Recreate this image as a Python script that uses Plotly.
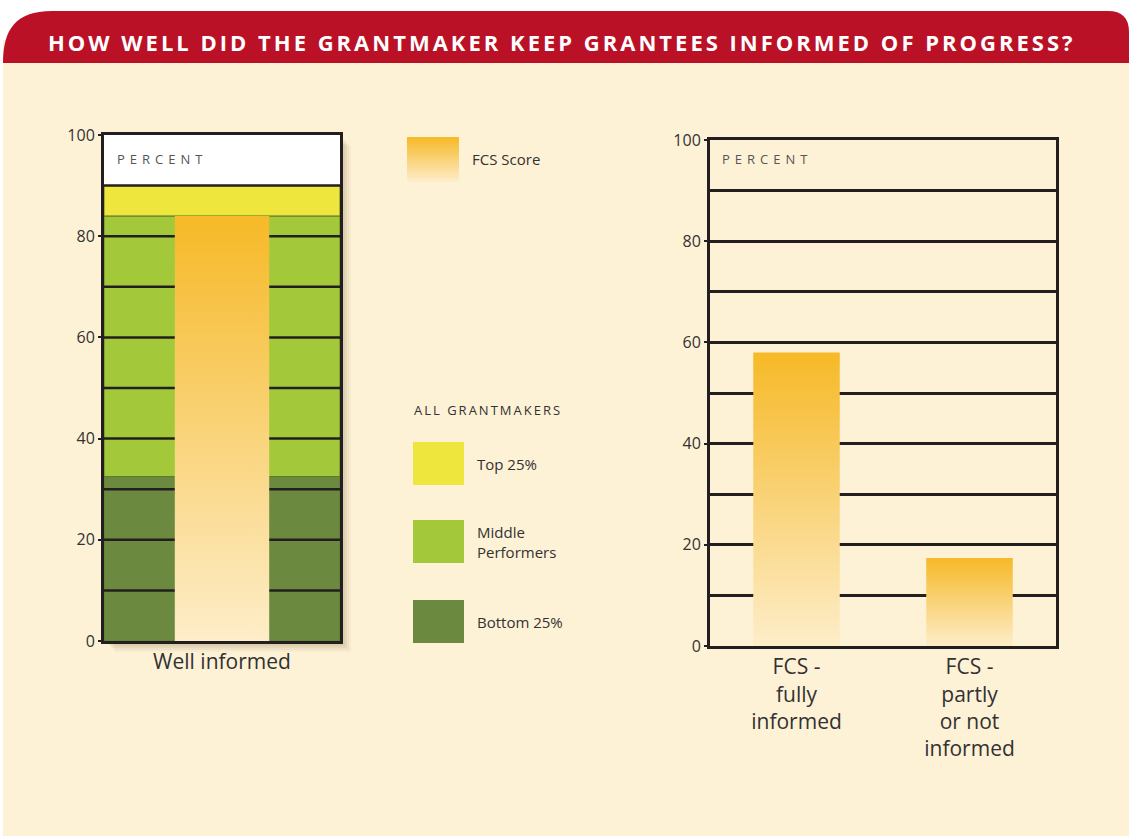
import plotly.graph_objects as go

W, H = 1129, 836

# ---- data ----
band_names = ["Bottom 25%", "Middle<br>Performers", "Top 25%"]
band_lower = [0, 32.5, 84]
band_upper = [32.5, 84, 90]
band_colors = ["#6B8A3F", "#A3C93A", "#EEE63C"]

left_categories = ["Well informed"]
left_fcs = [84]

right_categories = ["FCS -<br>fully<br>informed", "FCS -<br>partly<br>or not<br>informed"]
right_fcs = [58, 17.4]

y_ticks = [0, 20, 40, 60, 80, 100]
grid_levels = [10, 20, 30, 40, 50, 60, 70, 80, 90]

# ---- style ----
CREAM = "#FEF2D6"
RED = "#BA1126"
INK = "#231F20"
TEXT = "#333132"
ORANGE = "#F6B927"
PALE = "#FDEDC9"
FONT = "Open Sans"
GRAD = [[0, PALE], [1, ORANGE]]


def px(x):
    return x / W


def py(y):
    return 1 - y / H


def ppath(points):
    # points: list of (cmd, [(x, y), ...]) in pixels -> paper path string
    out = []
    for cmd, pts in points:
        out.append(cmd + " " + " ".join(f"{px(x):.5f},{py(y):.5f}" for x, y in pts))
    return " ".join(out) + " Z"


def bar_outline(center, value, width):
    x0, x1 = center - width / 2, center + width / 2
    return [x0, x1, x1, x0, x0], [0, 0, value, value, 0]


fig = go.Figure()

# background bands (left chart)
for name, lo, hi, col in zip(band_names, band_lower, band_upper, band_colors):
    fig.add_trace(go.Bar(
        x=[0], y=[hi - lo], base=[lo], width=1, name=name,
        marker=dict(color=col, line=dict(color="#5E7A2C", width=1)),
        xaxis="x", yaxis="y", showlegend=False,
    ))

# gridlines drawn over the bands but under the FCS bar
for g in grid_levels:
    fig.add_trace(go.Scatter(
        x=[-0.5, 0.5], y=[g, g], mode="lines",
        line=dict(color=INK, width=2.5), xaxis="x", yaxis="y",
        showlegend=False, hoverinfo="skip",
    ))

# FCS bar on the left chart
for i, v in enumerate(left_fcs):
    xs, ys = bar_outline(i, v, 0.4)
    fig.add_trace(go.Scatter(
        x=xs, y=ys, mode="lines", line=dict(width=0), fill="toself",
        fillgradient=dict(type="vertical", colorscale=GRAD),
        xaxis="x", yaxis="y", showlegend=False,
    ))

# FCS bars on the right chart
for i, v in enumerate(right_fcs):
    xs, ys = bar_outline(i, v, 0.5)
    fig.add_trace(go.Scatter(
        x=xs, y=ys, mode="lines", line=dict(width=0), fill="toself",
        fillgradient=dict(type="vertical", colorscale=GRAD),
        xaxis="x2", yaxis="y2", showlegend=False,
    ))

shapes = []
# cream panel + red banner
shapes.append(dict(type="rect", xref="paper", yref="paper",
                   x0=px(3), x1=px(W), y0=py(H), y1=py(40),
                   fillcolor=CREAM, line_width=0, layer="below"))
shapes.append(dict(type="path", xref="paper", yref="paper", layer="below",
                   fillcolor=RED, line_width=0,
                   path=ppath([("M", [(3, 63)]),
                               ("C", [(3, 30), (15, 11), (52, 11)]),
                               ("L", [(1108, 11)]),
                               ("Q", [(1129, 11), (1129, 32)]),
                               ("L", [(1129, 63)])])))
# soft shadow behind left chart
for k, a in enumerate([0.05, 0.06, 0.07, 0.08]):
    off = 11 - 2 * k
    shapes.append(dict(type="rect", xref="paper", yref="paper", layer="below",
                       x0=px(104 + off), x1=px(340 + off),
                       y0=py(641 + off), y1=py(135 + off),
                       fillcolor=f"rgba(110,90,50,{a})", line_width=0))
# white header strip on left chart
shapes.append(dict(type="rect", xref="x", yref="y", x0=-0.5, x1=0.5, y0=90, y1=100,
                   fillcolor="white", line_width=0, layer="below"))

# legend swatches
def hexrgb(h):
    return tuple(int(h[i:i + 2], 16) for i in (1, 3, 5))


o, p = hexrgb(ORANGE), hexrgb(PALE)
top, bot = 137, 182
n = bot - top
for k in range(n):
    t = k / (n - 1)
    c = tuple(round(o[j] + (p[j] - o[j]) * t) for j in range(3))
    shapes.append(dict(type="rect", xref="paper", yref="paper",
                       x0=px(407), x1=px(459), y0=py(bot), y1=py(top + k),
                       fillcolor="rgb(%d,%d,%d)" % c, line_width=0))

legend_rows = [(442, 485), (520, 563), (600, 643)]
for (y0, y1), col in zip(legend_rows, band_colors[::-1]):
    shapes.append(dict(type="rect", xref="paper", yref="paper",
                       x0=px(413), x1=px(464), y0=py(y1), y1=py(y0),
                       fillcolor=col, line_width=0))

annotations = [
    dict(x=px(46), y=py(42), xref="paper", yref="paper", xanchor="left", yanchor="middle",
         text='<b><span style="letter-spacing:3px">HOW WELL DID THE GRANTMAKER KEEP GRANTEES INFORMED OF PROGRESS?</span></b>',
         showarrow=False, font=dict(family=FONT, size=22, color="white")),
    dict(x=px(115), y=py(159), xref="paper", yref="paper", xanchor="left", yanchor="middle",
         text='<span style="letter-spacing:5px">PERCENT</span>', showarrow=False,
         font=dict(family=FONT, size=13, color="#555")),
    dict(x=px(720), y=py(159), xref="paper", yref="paper", xanchor="left", yanchor="middle",
         text='<span style="letter-spacing:5px">PERCENT</span>', showarrow=False,
         font=dict(family=FONT, size=13, color="#555")),
    dict(x=px(470), y=py(159), xref="paper", yref="paper", xanchor="left", yanchor="middle",
         text="FCS Score", showarrow=False, font=dict(family=FONT, size=15, color=TEXT)),
    dict(x=px(412), y=py(410), xref="paper", yref="paper", xanchor="left", yanchor="middle",
         text='<span style="letter-spacing:2px">ALL GRANTMAKERS</span>', showarrow=False,
         font=dict(family=FONT, size=13, color=TEXT)),
]
for (y0, y1), name in zip(legend_rows, band_names[::-1]):
    annotations.append(dict(x=px(475), y=py((y0 + y1) / 2), xref="paper", yref="paper",
                            xanchor="left", yanchor="middle", align="left",
                            text=name, showarrow=False,
                            font=dict(family=FONT, size=15, color=TEXT)))

axis_common = dict(showline=True, mirror=True, linecolor=INK, linewidth=3,
                   zeroline=False, fixedrange=True, automargin=False)

fig.update_layout(
    width=W, height=H,
    margin=dict(l=0, r=0, t=0, b=0, pad=0, autoexpand=False),
    paper_bgcolor="white",
    plot_bgcolor="rgba(0,0,0,0)",
    barmode="overlay",
    showlegend=False,
    font=dict(family=FONT, color=TEXT),
    shapes=shapes,
    annotations=annotations,
    xaxis=dict(domain=[px(104), px(340)], range=[-0.5, 0.5], tickvals=[0],
               ticktext=left_categories, tickfont=dict(size=21), ticks="",
               showgrid=False, **axis_common),
    yaxis=dict(domain=[py(641), py(135)], range=[0, 100], tickvals=y_ticks,
               tickfont=dict(size=16), ticks="outside", ticklen=3, tickwidth=2,
               tickcolor=INK, showgrid=False, **axis_common),
    xaxis2=dict(domain=[px(710), px(1056)], range=[-0.5, 1.5], tickvals=[0, 1],
                ticktext=right_categories, tickfont=dict(size=21), ticks="",
                showgrid=False, anchor="y2", **axis_common),
    yaxis2=dict(domain=[py(646), py(140)], range=[0, 100], tickvals=y_ticks,
                tickfont=dict(size=16), ticks="outside", ticklen=3, tickwidth=2,
                tickcolor=INK, showgrid=True, gridcolor=INK, gridwidth=2.5,
                minor=dict(dtick=10, showgrid=True, gridcolor=INK, gridwidth=2.5),
                anchor="x2", **axis_common),
)

fig.write_html("out.html", config={"displayModeBar": False},
               post_script="document.body.style.margin='0';")
